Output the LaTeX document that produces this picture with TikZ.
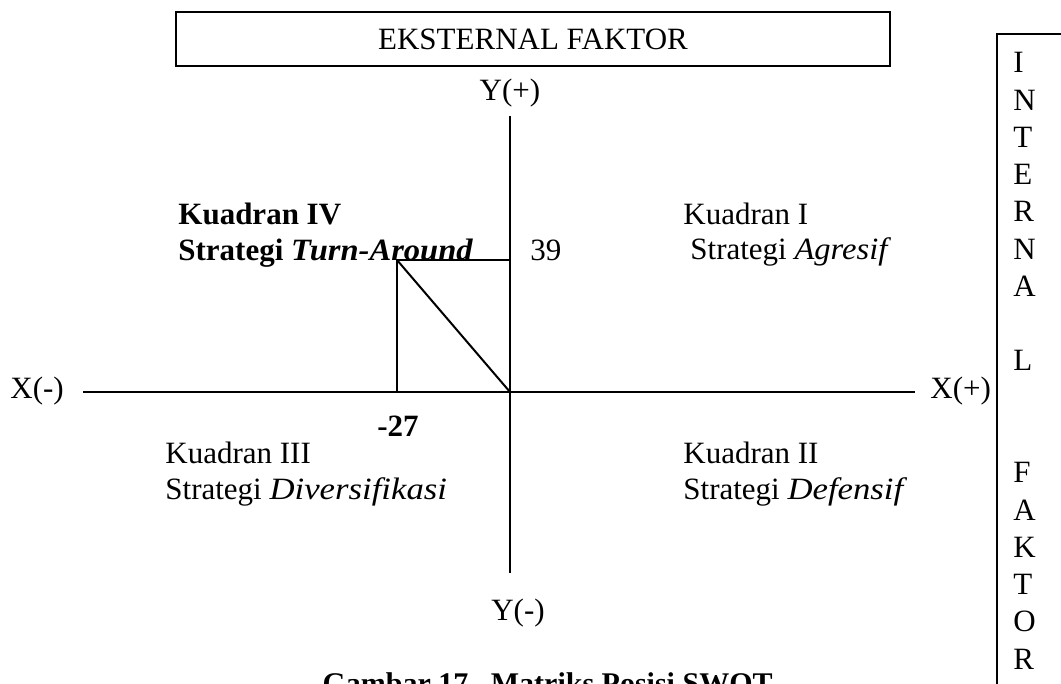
\documentclass[tikz,border=0pt]{standalone}
\usepackage{fontspec}
\usepackage{graphicx}
\setmainfont{Liberation Serif}
\newcommand{\itw}[2][1.12]{\scalebox{#1}[1]{\itshape #2}}
\begin{document}
\begin{tikzpicture}[x=0.5pt,y=-0.5pt,
  txt/.style={inner sep=0pt, font=\fontsize{15.5}{18}\selectfont},
  lft/.style={txt, anchor=base west},
  ctr/.style={txt, anchor=base},
  frame/.style={draw, line width=1pt, inner sep=0pt},
  ln/.style={line width=1pt}]
\useasboundingbox (0,0) rectangle (1061,684);
% top box
\node[frame, txt, minimum width=357pt, minimum height=27pt] (ext) at (533,39) {EKSTERNAL FAKTOR};
% right box (cut off)
\node[frame, anchor=north west, minimum width=60pt, minimum height=400pt] (int) at (996,33) {};
\foreach \l/\k in {I/0,N/1,T/2,E/3,R/4,N/5,A/6,L/8,F/11,A/12,K/13,T/14,O/15,R/16}{
  \node[lft] (int\k) at (1013,{73+37.25*\k}) {\l};
}
% axes
\coordinate (xl) at (83,392);
\coordinate (xr) at (915,392);
\coordinate (yt) at (510,116);
\coordinate (yb) at (510,573);
\coordinate (o) at (510,392);
\draw[ln] (xl) -- (xr);
\draw[ln] (yt) -- (yb);
\node[lft] (xm) at (10,399) {X(-)};
\node[lft] (xp) at (930,399) {X(+)};
\node[ctr] (yp) at (510,101) {Y(+)};
\node[ctr] (ym) at (518,620) {Y(-)};
% position
\coordinate (p) at (397,260);
\coordinate (py) at (510,260);
\coordinate (px) at (397,392);
\draw[ln] (py) -- (p) -- (px);
\draw[ln] (p) -- (o);
\node[lft] (v39) at (530,261) {39};
\node[ctr] (v27) at (398,437) {\textbf{-27}};
% quadrants
\node[lft] (q4a) at (178,225) {\textbf{Kuadran IV}};
\node[lft] (q4b) at (178,261) {\textbf{Strategi \itw[1.05]{Turn-Around}}};
\node[lft] (q1a) at (683,225) {Kuadran I};
\node[lft] (q1b) at (690,260) {Strategi \itw[1.05]{Agresif}};
\node[lft] (q3a) at (165,464) {Kuadran III};
\node[lft] (q3b) at (165,499) {Strategi \itw{Diversifikasi}};
\node[lft] (q2a) at (683,464) {Kuadran II};
\node[lft] (q2b) at (683,499) {Strategi \itw{Defensif}};
% caption (cut off)
\node[txt, font=\fontsize{15}{18}\selectfont\bfseries, anchor=base east] (cap) at (773,693) {Gambar 17.\ \ Matriks Posisi SWOT};
\end{tikzpicture}
\end{document}
